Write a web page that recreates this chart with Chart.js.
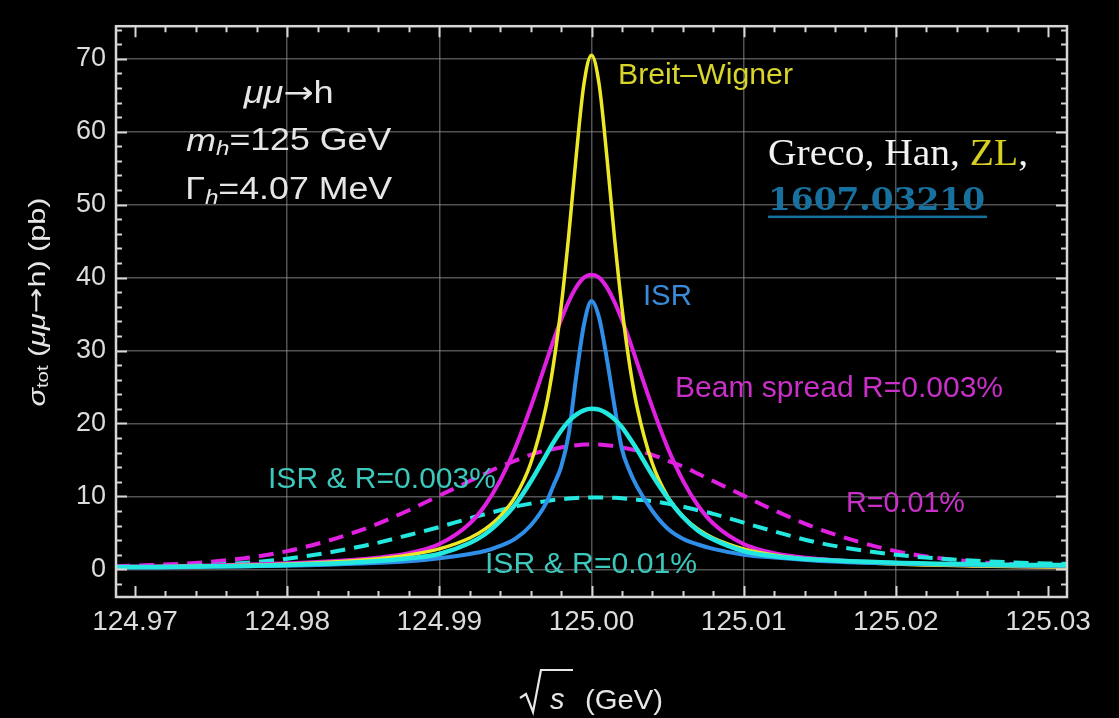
<!DOCTYPE html>
<html>
<head>
<meta charset="utf-8">
<script src="https://cdn.jsdelivr.net/npm/chart.js@4.4.0/dist/chart.umd.min.js"></script>
<style>
    html, body { margin: 0; padding: 0; background: #000; overflow: hidden; }
    #wrap { width: 1119px; height: 718px; }
</style>
</head>
<body>
<div id="wrap"><canvas id="chart" width="1119" height="718"></canvas></div>
<script>
// sqrt(s) sample points in GeV, shared by every curve
const sqrtS = [124.9687, 124.970, 124.975, 124.980, 124.985, 124.988, 124.990, 124.992, 124.993, 124.994,
    124.995, 124.996, 124.997, 124.9975, 124.998, 124.9985, 124.999, 124.9995, 125.000, 125.0005,
    125.001, 125.0015, 125.002, 125.0025, 125.003, 125.004, 125.005, 125.006, 125.007, 125.008,
    125.010, 125.012, 125.015, 125.020, 125.025, 125.030, 125.0313];

// sigma_tot in pb
const breitWigner = [0.30, 0.32, 0.46, 0.72, 1.27, 1.97, 2.80, 4.29, 5.50, 7.27,
    10.0, 14.5, 22.2, 28.1, 35.9, 45.7, 56.8, 66.5, 70.5, 66.5,
    56.8, 45.7, 35.9, 28.1, 22.2, 14.5, 10.0, 7.27, 5.50, 4.29,
    2.80, 1.97, 1.27, 0.72, 0.46, 0.32, 0.30];
const isrOnly = [0.25, 0.25, 0.35, 0.50, 0.80, 1.10, 1.50, 2.10, 2.50, 3.20,
    4.20, 6.00, 9.00, 11.5, 14.0, 18.5, 26.5, 33.5, 36.8, 34.5,
    29.0, 22.5, 16.5, 13.5, 11.3, 8.00, 5.60, 4.20, 3.40, 2.80,
    2.00, 1.60, 1.15, 0.80, 0.60, 0.50, 0.50];
const beamSpread003 = [0.34, 0.37, 0.53, 0.82, 1.41, 2.22, 3.46, 6.28, 8.75, 12.2,
    16.7, 22.2, 28.3, 31.4, 34.2, 36.7, 38.7, 40.0, 40.4, 40.0,
    38.7, 36.7, 34.2, 31.4, 28.3, 22.2, 16.7, 12.2, 8.75, 6.28,
    3.46, 2.22, 1.41, 0.82, 0.53, 0.37, 0.34];
const isrBeam003 = [0.30, 0.30, 0.40, 0.60, 1.00, 1.50, 2.10, 3.60, 4.80, 6.60,
    8.90, 12.0, 15.6, 17.4, 19.0, 20.3, 21.2, 21.8, 22.0, 21.9,
    21.4, 20.6, 19.5, 18.0, 16.4, 12.9, 9.80, 7.20, 5.30, 4.10,
    2.50, 1.80, 1.30, 0.90, 0.70, 0.60, 0.60];
const beamSpread01 = [0.42, 0.50, 1.05, 2.49, 5.48, 8.10, 10.1, 12.1, 13.1, 14.1,
    14.9, 15.7, 16.3, 16.5, 16.7, 16.9, 17.0, 17.1, 17.1, 17.1,
    17.0, 16.9, 16.7, 16.5, 16.3, 15.7, 14.9, 14.1, 13.1, 12.1,
    10.1, 8.10, 5.48, 2.49, 1.05, 0.50, 0.42];
const isrBeam01 = [0.25, 0.30, 0.60, 1.45, 3.20, 4.70, 5.80, 7.00, 7.55, 8.10,
    8.60, 9.00, 9.35, 9.50, 9.60, 9.70, 9.78, 9.83, 9.85, 9.85,
    9.83, 9.80, 9.75, 9.65, 9.55, 9.35, 9.00, 8.60, 8.10, 7.60,
    6.40, 5.20, 3.60, 2.00, 1.20, 0.80, 0.75];

// axis ticks
const xTickValues = [124.97, 124.98, 124.99, 125.00, 125.01, 125.02, 125.03];
const xTickLabels = ['124.97', '124.98', '124.99', '125.00', '125.01', '125.02', '125.03'];
const yTickValues = [0, 10, 20, 30, 40, 50, 60, 70];
const yTickLabels = ['0', '10', '20', '30', '40', '50', '60', '70'];

const SANS = '"Liberation Sans", Arial, Helvetica, sans-serif';
const ARROW_FONT = '"DejaVu Sans", sans-serif';
const YELLOW = '#ece826';
const MAGENTA = '#e020e0';
const BLUE = '#2e8ee8';
const CYAN = '#22e8e0';
const LABEL_TEAL = '#3cc8bc';
const LABEL_MAGENTA = '#c830c8';
const FRAME = '#d6d6d6';
const TEXT = '#e6e6e6';

function series(values) {
    return sqrtS.map((x, i) => ({ x: x, y: values[i] }));
}

// draw a run of differently styled text pieces as one string
function richText(ctx, parts, x, y, opt) {
    const size = opt.size;
    const fontOf = p => (p.i ? 'italic ' : '') + (p.b ? 'bold ' : '') +
        (p.sub ? Math.round(size * 0.68) : size) + 'px ' + (p.f || opt.family || SANS);
    let total = 0;
    const widths = parts.map(p => {
        ctx.font = fontOf(p);
        const w = ctx.measureText(p.t).width;
        total += w;
        return w;
    });
    const sx = opt.width ? opt.width / total : 1;
    ctx.save();
    ctx.translate(x, y);
    if (opt.rotate) ctx.rotate(opt.rotate);
    ctx.scale(sx, 1);
    ctx.textBaseline = opt.baseline || 'middle';
    ctx.textAlign = 'left';
    let cx = opt.align === 'center' ? -total / 2 : 0;
    parts.forEach((p, i) => {
        ctx.font = fontOf(p);
        ctx.fillStyle = p.c || opt.color;
        ctx.fillText(p.t, cx, p.sub ? size * 0.24 : 0);
        cx += widths[i];
    });
    ctx.restore();
}

// text labels placed in data coordinates
const curveLabels = [
    { parts: [{ t: 'Breit\u2013Wigner' }], x: 125.00174, y: 67.7, color: '#d8d42a', width: 175 },
    { parts: [{ t: 'ISR' }], x: 125.00338, y: 37.3, color: '#3a8ad8', width: 49 },
    { parts: [{ t: 'Beam spread R=0.003%' }], x: 125.00549, y: 24.7, color: LABEL_MAGENTA, width: 328 },
    { parts: [{ t: 'R=0.01%' }], x: 125.01672, y: 8.9, color: LABEL_MAGENTA, width: 119 },
    { parts: [{ t: 'ISR & R=0.003%' }], x: 124.97874, y: 12.3, color: LABEL_TEAL, width: 228 },
    { parts: [{ t: 'ISR & R=0.01%' }], x: 124.9930, y: 0.6, color: LABEL_TEAL, width: 212 }
];
const infoLabels = [
    { parts: [{ t: '\u03bc\u03bc', i: true }, { t: '\u2192', f: ARROW_FONT }, { t: 'h' }], y: 65.1, width: 90 },
    { parts: [{ t: 'm', i: true }, { t: 'h', i: true, sub: true }, { t: '=125 GeV' }], y: 58.6, width: 205 },
    { parts: [{ t: '\u0393' }, { t: 'h', i: true, sub: true }, { t: '=4.07 MeV' }], y: 51.9, width: 207 }
];

const framePlugin = {
    id: 'frame',
    afterDatasetsDraw(chart) {
        const { ctx, chartArea: a, scales: { x, y } } = chart;
        ctx.save();
        ctx.strokeStyle = FRAME;
        ctx.lineWidth = 2;
        ctx.beginPath();
        // inward ticks on all four sides, minor every 0.002 GeV and 2 pb
        for (let k = 0; k <= 30; k++) {
            const px = Math.round(x.getPixelForValue(124.97 + k * 0.002)) + 0.5;
            const len = k % 5 === 0 ? 11 : 6;
            ctx.moveTo(px, a.bottom); ctx.lineTo(px, a.bottom - len);
            ctx.moveTo(px, a.top); ctx.lineTo(px, a.top + len);
        }
        for (let v = -2; v <= 74; v += 2) {
            const py = Math.round(y.getPixelForValue(v)) + 0.5;
            const len = (v % 10 === 0 && v >= 0 && v <= 70) ? 11 : 6;
            ctx.moveTo(a.left, py); ctx.lineTo(a.left + len, py);
            ctx.moveTo(a.right, py); ctx.lineTo(a.right - len, py);
        }
        ctx.stroke();
        ctx.lineWidth = 2.5;
        ctx.strokeRect(a.left, a.top, a.right - a.left, a.bottom - a.top);
        ctx.restore();
    },
    afterDraw(chart) {
        const { ctx, scales: { x, y } } = chart;

        curveLabels.forEach(l => {
            richText(ctx, l.parts, x.getPixelForValue(l.x), y.getPixelForValue(l.y),
                { size: 29, color: l.color, width: l.width });
        });
        infoLabels.forEach(l => {
            richText(ctx, l.parts, x.getPixelForValue(124.9801), y.getPixelForValue(l.y),
                { size: 31, color: TEXT, width: l.width, align: 'center' });
        });

        // citation
        const cx = x.getPixelForValue(125.0116);
        richText(ctx, [{ t: 'Greco, Han, ' }, { t: 'ZL', c: '#d8d020' }, { t: ',' }],
            cx, y.getPixelForValue(55.4), { size: 38, color: '#f2f2f2', width: 260,
                family: '"Liberation Serif", "Times New Roman", serif', baseline: 'alphabetic' });
        richText(ctx, [{ t: '1607.03210', b: true }], cx, y.getPixelForValue(49.3),
            { size: 31, color: '#17709e', width: 217, family: '"DejaVu Serif", serif', baseline: 'alphabetic' });
        ctx.fillStyle = '#17709e';
        ctx.fillRect(cx, y.getPixelForValue(48.5), 219, 2.5);

        // y axis title
        richText(ctx, [{ t: '\u03c3', i: true }, { t: 'tot', sub: true }, { t: ' (' },
            { t: '\u03bc\u03bc', i: true }, { t: '\u2192', f: ARROW_FONT }, { t: 'h) (pb)' }],
            38, 302, { size: 24, color: TEXT, width: 209, align: 'center', rotate: -Math.PI / 2 });

        // x axis title: radical sign with bar over s, then (GeV)
        ctx.save();
        ctx.strokeStyle = TEXT;
        ctx.lineWidth = 2.2;
        ctx.lineJoin = 'miter';
        ctx.beginPath();
        ctx.moveTo(520, 698);
        ctx.lineTo(526, 694);
        ctx.lineTo(533, 712);
        ctx.lineTo(541, 670);
        ctx.lineTo(573, 670);
        ctx.stroke();
        ctx.restore();
        richText(ctx, [{ t: 's', i: true }], 550, 709, { size: 29, color: TEXT, baseline: 'alphabetic' });
        richText(ctx, [{ t: '(GeV)' }], 585, 709, { size: 28, color: TEXT, width: 78, baseline: 'alphabetic' });
    }
};

const solid = (label, data, color, width) => ({
    label: label, data: series(data), borderColor: color, borderWidth: width,
    pointRadius: 0, fill: false, cubicInterpolationMode: 'monotone', borderJoinStyle: 'round'
});
const dashed = (label, data, color) => Object.assign(solid(label, data, color, 4), { borderDash: [15, 9] });

new Chart(document.getElementById('chart'), {
    type: 'line',
    data: {
        datasets: [
            solid('ISR & R=0.003%', isrBeam003, CYAN, 4.5),
            solid('ISR', isrOnly, BLUE, 4),
            solid('Breit-Wigner', breitWigner, YELLOW, 3.5),
            solid('Beam spread R=0.003%', beamSpread003, MAGENTA, 4),
            dashed('ISR & R=0.01%', isrBeam01, CYAN),
            dashed('R=0.01%', beamSpread01, MAGENTA)
        ]
    },
    options: {
        responsive: false,
        devicePixelRatio: 1,
        animation: false,
        layout: { padding: { top: 10, right: 52, left: 0, bottom: 0 } },
        plugins: {
            legend: { display: false },
            tooltip: { enabled: false }
        },
        scales: {
            x: {
                type: 'linear',
                min: 124.96875,
                max: 125.03125,
                afterBuildTicks: s => { s.ticks = xTickValues.map(v => ({ value: v })); },
                afterFit: s => { s.height = 121; },
                ticks: {
                    callback: (v, i) => xTickLabels[i],
                    font: { family: SANS, size: 28 },
                    color: '#dcdcdc',
                    padding: 8,
                    maxRotation: 0,
                    autoSkip: false
                },
                grid: {
                    color: c => (c.index === 0 || c.index === xTickValues.length - 1) ? 'rgba(0,0,0,0)' : 'rgba(150,150,150,0.55)',
                    lineWidth: 1.5,
                    drawTicks: false
                },
                border: { display: false }
            },
            y: {
                type: 'linear',
                min: -3.8,
                max: 74.47,
                afterBuildTicks: s => { s.ticks = yTickValues.map(v => ({ value: v })); },
                afterFit: s => { s.width = 116; },
                ticks: {
                    callback: (v, i) => yTickLabels[i],
                    font: { family: SANS, size: 27 },
                    color: '#dcdcdc',
                    padding: 10
                },
                grid: {
                    color: 'rgba(150,150,150,0.55)',
                    lineWidth: 1.5,
                    drawTicks: false
                },
                border: { display: false }
            }
        }
    },
    plugins: [framePlugin]
});
</script>
</body>
</html>
